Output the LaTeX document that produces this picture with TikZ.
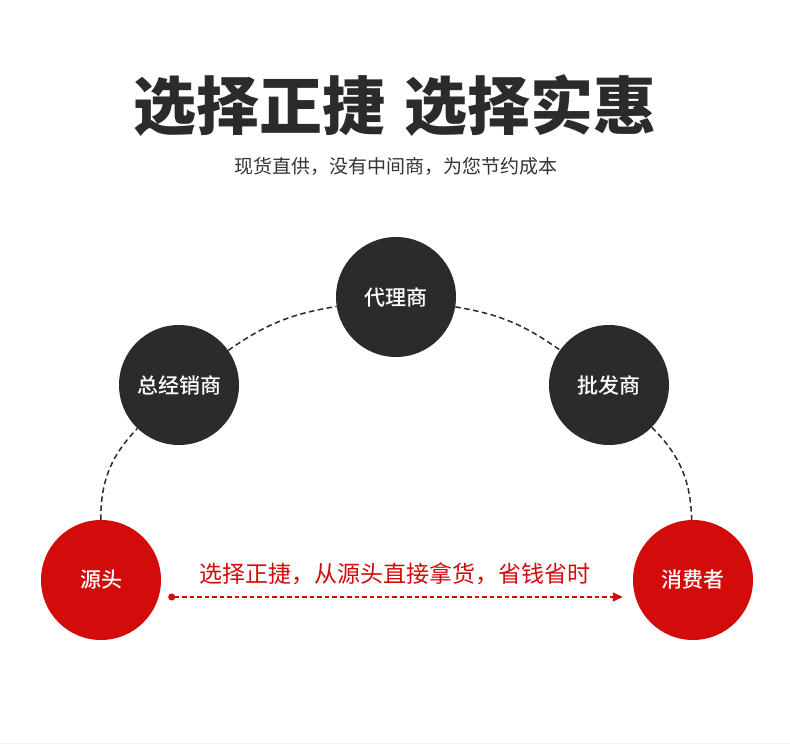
\documentclass[tikz,border=0pt]{standalone}
\usepackage{fontspec}
\usepackage{xcolor}
\usepackage{tikz}
\usetikzlibrary{arrows.meta}
\newfontfamily\cjk{Noto Sans CJK SC}
\newfontfamily\cjkmid{Noto Sans CJK SC Medium}
\definecolor{inkdark}{HTML}{2B2B2B}
\definecolor{inkred}{HTML}{D20B0B}
\definecolor{inktext}{HTML}{333333}
\definecolor{rulefaint}{HTML}{EEF4F8}
\tikzset{
  % --- headings ---------------------------------------------------------------
  headline/.style={inner sep=0pt,text=inkdark,
                   font=\cjk\bfseries\fontsize{63}{63}\selectfont},
  subline/.style={inner sep=0pt,text=inktext,
                  font=\cjk\fontsize{19}{19}\selectfont},
  caption/.style={inner sep=0pt,text=inkred,
                  font=\cjk\fontsize{23}{23}\selectfont},
  % --- supply-chain stages ----------------------------------------------------
  stage/.style={circle,inner sep=0pt,minimum size=120pt,text=white,
                font=\cjkmid\fontsize{21}{21}\selectfont},
  stagemid/.style={stage,fill=inkdark},   % middlemen
  stageend/.style={stage,fill=inkred},    % source and buyer
  % --- links ------------------------------------------------------------------
  chain/.style={inkdark,line width=1.5pt,dash pattern=on 5.5pt off 3.5pt},
  shortcut/.style={{Circle[length=7pt]}-{Triangle[length=10pt,width=9pt]},
                   inkred,line width=1.3pt,dash pattern=on 4.5pt off 3pt},
}
\begin{document}
\begin{tikzpicture}[x=1pt, y=1pt]
  \useasboundingbox[fill=white] (0,0) rectangle (790,744);
  \draw[rulefaint,line width=1pt] (0,0.5) -- (790,0.5);
  % --- heading ---------------------------------------------------------
  \node[headline] (head) at (395,638) {选择正捷\hspace{0.3em}选择实惠};
  \node[subline]  (sub)  at (396,578) {现货直供，没有中间商，为您节约成本};
  % --- the long way round: four hops -----------------------------------
  \node[stageend] (src)   at (101,164) {源头};
  \node[stagemid] (gen)   at (179,359) {总经销商};
  \node[stagemid] (agent) at (396,447) {代理商};
  \node[stagemid] (whole) at (609,359) {批发商};
  \node[stageend] (buyer) at (693,164) {消费者};

  \draw[chain] (src)   to[bend left=22] (gen);
  \draw[chain] (gen)   to[bend left=13] (agent);
  \draw[chain] (agent) to[bend left=13] (whole);
  \draw[chain] (whole) to[bend left=22] (buyer);
  % --- the short way: straight from the source -------------------------
  \node[caption] (note) at (395,170) {选择正捷，从源头直接拿货，省钱省时};
  \draw[shortcut,shorten <=7pt,shorten >=10pt]
    ([yshift=-17pt]src.east) -- ([yshift=-17pt]buyer.west);
\end{tikzpicture}
\end{document}
